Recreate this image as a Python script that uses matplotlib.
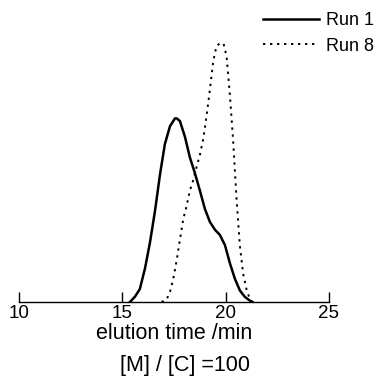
import numpy as np
import matplotlib.pyplot as plt

plt.rcParams['font.family'] = ['Liberation Sans', 'DejaVu Sans']

# elution time (min) and relative intensity
run1_t = [15.37, 15.61, 15.85, 16.10, 16.34, 16.58, 16.82, 17.06, 17.31, 17.55,
          17.64, 17.79, 18.03, 18.27, 18.51, 18.76, 19.00, 19.24, 19.48, 19.72,
          19.97, 20.21, 20.45, 20.69, 20.93, 21.18, 21.30]
run1_y = [0.00, 0.02, 0.05, 0.13, 0.23, 0.35, 0.49, 0.61, 0.68, 0.71,
          0.71, 0.70, 0.64, 0.56, 0.50, 0.43, 0.36, 0.31, 0.28, 0.26,
          0.22, 0.15, 0.09, 0.045, 0.02, 0.005, 0.00]

run8_t = [16.90, 17.15, 17.31, 17.47, 17.63, 17.79, 17.95, 18.11, 18.27, 18.43,
          18.59, 18.76, 18.92, 19.08, 19.24, 19.40, 19.56, 19.72, 19.90, 20.05,
          20.21, 20.37, 20.53, 20.69, 20.85, 21.01, 21.18, 21.30]
run8_y = [0.00, 0.01, 0.04, 0.09, 0.16, 0.24, 0.32, 0.37, 0.43, 0.47,
          0.52, 0.57, 0.63, 0.72, 0.82, 0.93, 0.99, 1.00, 1.00, 0.95,
          0.80, 0.62, 0.40, 0.22, 0.11, 0.05, 0.01, 0.00]

fig = plt.figure(figsize=(3.83, 3.77), dpi=100)
ax = fig.add_axes([0.0496, 0.199, 0.809, 0.72])

ax.plot(run1_t, run1_y, color='black', lw=1.8, label='Run 1', solid_joinstyle='round')
ax.plot(run8_t, run8_y, color='black', lw=1.4, linestyle=(0, (1.2, 2.4)), label='Run 8')

ax.set_xlim(10, 25)
ax.set_ylim(0, 1.05)
ax.set_xticks([10, 15, 20, 25])
ax.set_yticks([])
for s in ['top', 'right', 'left']:
    ax.spines[s].set_visible(False)
ax.spines['bottom'].set_linewidth(1.0)
ax.tick_params(axis='x', direction='in', length=7, width=1, pad=2, labelsize=13.5)
ax.set_xlabel('elution time /min', fontsize=15.5, labelpad=1)

fig.text(0.483, 0.03, '[M] / [C] =100', fontsize=15.5, ha='center', va='center')

leg = fig.legend(loc='upper right', bbox_to_anchor=(1.02, 1.01), frameon=False,
                 fontsize=13, handlelength=3.1, handletextpad=0.4, labelspacing=0.45)

fig.savefig('out.png', dpi=100)
